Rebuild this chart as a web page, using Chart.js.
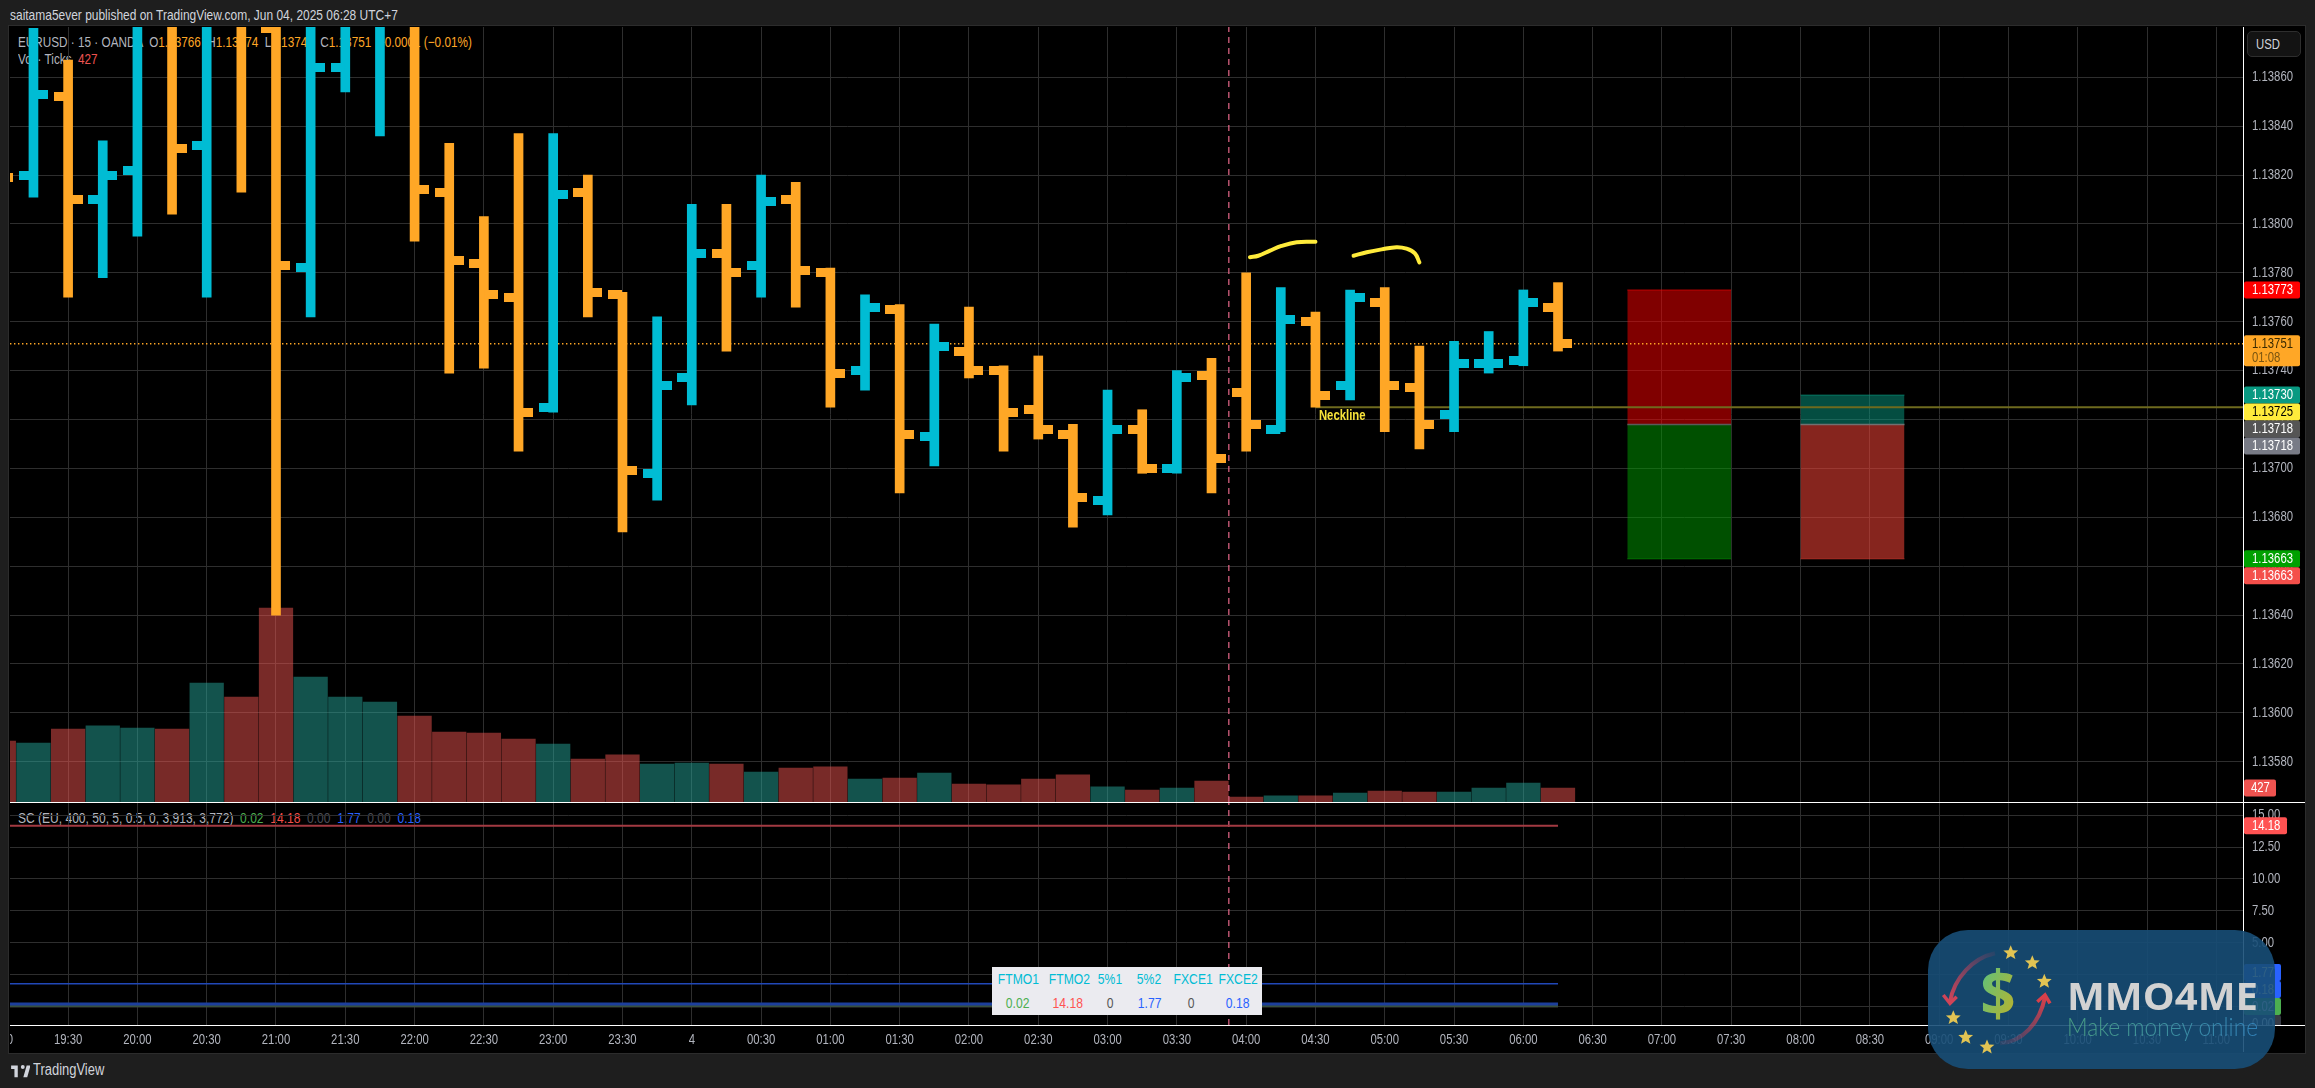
<!DOCTYPE html>
<html>
<head>
<meta charset="utf-8">
<script src="https://cdn.jsdelivr.net/npm/chart.js@4/dist/chart.umd.min.js"></script>
<style>
html, body { margin: 0; padding: 0; width: 2315px; height: 1088px; overflow: hidden; background: #1e1e1e; }
body, div, span, td { font-family: "Liberation Sans", sans-serif; }
.abs { position: absolute; }
.txt { position: absolute; white-space: pre; font-size: 14.5px; color: #b2b5be; line-height: 18px; transform: scaleX(0.81); transform-origin: left center; }
canvas { position: absolute; display: block; }
#pane { left: 9px; top: 26px; width: 2296px; height: 1027px; background: #000; outline: 1px solid #2c2c2c; }
.white { position: absolute; background: #fff; }
#usd { left: 2247px; top: 31px; width: 54px; height: 26px; background: #131313; border: 1px solid #2e2e2e; border-radius: 5px; box-sizing: border-box; }
#panel { left: 992px; top: 967px; width: 270px; height: 48px; background: #ebebf0; border-collapse: collapse; table-layout: fixed; }
#panel td { padding: 0; text-align: center; font-size: 15px; line-height: 24px; height: 24px; }
#panel span { display: inline-block; transform: scaleX(0.81); }
</style>
</head>
<body>
<div class="txt" style="left:10px;top:6px;color:#d1d4dc;transform:scaleX(0.825)">saitama5ever published on TradingView.com, Jun 04, 2025 06:28 UTC+7</div>
<div id="pane" class="abs"></div>
<div class="txt" style="left:18px;top:33px">EURUSD · 15 · OANDA  O<span style="color:#ffa726">1.13766</span>  H<span style="color:#ffa726">1.13774</span>  L<span style="color:#ffa726">1.13749</span>  C<span style="color:#ffa726">1.13751</span>  <span style="color:#ffa726">−0.0001 (−0.01%)</span></div>
<div class="txt" style="left:18px;top:50px">Vol · Ticks  <span style="color:#ef5350">427</span></div>
<div class="txt" style="left:18px;top:809px;transform:scaleX(0.83)">SC (EU, 400, 50, 5, 0.5, 0, 3,913, 3,772)  <span style="color:#4caf50">0.02</span>  <span style="color:#f44f4a">14.18</span>  <span style="color:#4a4c55">0.00</span>  <span style="color:#2962ff">1.77</span>  <span style="color:#4a4c55">0.00</span>  <span style="color:#2962ff">0.18</span></div>
<canvas id="priceChart" width="2295" height="775" style="left:10px;top:27px"></canvas>
<canvas id="subChart" width="2295" height="250" style="left:10px;top:803px"></canvas>
<div class="white" style="left:10px;top:801.5px;width:2295px;height:1.5px"></div>
<div class="white" style="left:10px;top:1024.5px;width:2295px;height:1.5px"></div>
<div class="white" style="left:2242.7px;top:27px;width:1.5px;height:1025px"></div>
<div id="usd" class="abs"></div>
<div class="txt" style="left:2256px;top:35px;color:#d1d4dc;font-size:14px">USD</div>
<table id="panel" class="abs"></table>
<svg class="abs" style="left:10px;top:1062px" width="20" height="16" viewBox="0 0 36 28"><path fill="#d1d4dc" d="M14 6H2v6h6v15h6V6zm17 21h-7l6-21h7l-6 21zm-8-15a3.500 3.500 0 1 0 0-7 3.500 3.500 0 0 0 0 7z"/></svg>
<div class="txt" style="left:33px;top:1061px;color:#d1d4dc;font-size:16px">TradingView</div>
<svg class="abs" style="left:1928px;top:930px" width="347" height="139" viewBox="0 0 347 139">
  <defs>
    <linearGradient id="dollarFill" x1="0" y1="0" x2="1" y2="1"><stop offset="0" stop-color="#4cc48a"/><stop offset="1" stop-color="#c9b020"/></linearGradient>
    <linearGradient id="tagFill" x1="0" y1="0" x2="1" y2="0"><stop offset="0" stop-color="#59b98a"/><stop offset="1" stop-color="#3a93cf"/></linearGradient>
    <linearGradient id="arcA" x1="1" y1="0" x2="0" y2="1"><stop offset="0" stop-color="#c9405a" stop-opacity="0.1"/><stop offset="1" stop-color="#d04458"/></linearGradient>
    <linearGradient id="arcB" x1="0" y1="1" x2="1" y2="0"><stop offset="0" stop-color="#c9405a" stop-opacity="0.1"/><stop offset="1" stop-color="#d8404a"/></linearGradient>
    <polygon id="star" points="0,-7.500 2.100,-2.500 7.400,-2.200 3.300,1.200 4.700,6.400 0,3.600 -4.700,6.400 -3.300,1.200 -7.400,-2.200 -2.100,-2.500" fill="#e2c453"/>
  </defs>
  <rect width="347" height="139" rx="40" fill="rgba(23,78,119,0.9)"/>
  <path d="M67 23.300 C45 28 26 48 22 72" fill="none" stroke="url(#arcA)" stroke-width="4"/>
  <path d="M15.300 65 L22 73.300 L28.700 66.700" fill="none" stroke="#d04458" stroke-width="3.500"/>
  <path d="M72 113.300 C95 112 112 92 117 67" fill="none" stroke="url(#arcB)" stroke-width="4"/>
  <path d="M109.300 71.700 L117 65 L122 73.300" fill="none" stroke="#d8404a" stroke-width="3.500"/>
  <use href="#star" x="82.700" y="22.700"/><use href="#star" x="104.300" y="32.700"/><use href="#star" x="116.300" y="51.300"/>
  <use href="#star" x="25.300" y="87.700"/><use href="#star" x="37.700" y="107.300"/><use href="#star" x="59" y="117"/>
  <text x="70" y="86" text-anchor="middle" font-family="Open Sans" font-weight="700" font-size="62" fill="url(#dollarFill)">$</text>
  <text x="139" y="80" font-family="Open Sans" font-weight="700" font-size="37" textLength="191" lengthAdjust="spacingAndGlyphs" fill="#d2d2d2">MMO4ME</text>
  <text x="139" y="106" font-family="Lato" font-weight="300" font-size="25" textLength="191" lengthAdjust="spacingAndGlyphs" fill="url(#tagFill)" opacity="0.75">Make money online</text>
</svg>
<script>
// 15 minute bars, index 0 is 19:00 on the 3rd
var barOpen = [1.13835, 1.13820, 1.13852, 1.13810, 1.13822, 1.13895, 1.13832, 1.13895, 1.13880, 1.13782, 1.13864, 1.13890,
    1.13900, 1.13813, 1.13784, 1.13770, 1.13725, 1.13813, 1.13771, 1.13698, 1.13737, 1.13788, 1.13783, 1.13810,
    1.13780, 1.13740, 1.13765, 1.13713, 1.13748, 1.13740, 1.13724, 1.13714, 1.13687, 1.13716, 1.13700, 1.13738,
    1.13731, 1.13716, 1.13760, 1.13734, 1.13768, 1.13733, 1.13722, 1.13743, 1.13744, 1.13766];
var barHigh = [1.13845, 1.13880, 1.13867, 1.13834, 1.13905, 1.13905, 1.13905, 1.13905, 1.13895, 1.13890, 1.13900, 1.13910,
    1.13905, 1.13833, 1.13803, 1.13837, 1.13837, 1.13820, 1.13772, 1.13762, 1.13808, 1.13808, 1.13820, 1.13817,
    1.13782, 1.13771, 1.13767, 1.13759, 1.13766, 1.13742, 1.13746, 1.13718, 1.13732, 1.13724, 1.13740, 1.13745,
    1.13780, 1.13774, 1.13764, 1.13773, 1.13774, 1.13750, 1.13752, 1.13756, 1.13773, 1.13776];
var barLow = [1.13810, 1.13811, 1.13770, 1.13778, 1.13795, 1.13804, 1.13770, 1.13813, 1.13640, 1.13762, 1.13854, 1.13836,
    1.13793, 1.13739, 1.13741, 1.13707, 1.13723, 1.13762, 1.13674, 1.13687, 1.13726, 1.13748, 1.13770, 1.13766,
    1.13725, 1.13732, 1.13690, 1.13701, 1.13737, 1.13707, 1.13712, 1.13676, 1.13681, 1.13698, 1.13698, 1.13690,
    1.13707, 1.13715, 1.13725, 1.13728, 1.13715, 1.13708, 1.13715, 1.13739, 1.13742, 1.13748];
var barClose = [1.13819, 1.13853, 1.13810, 1.13820, 1.13895, 1.13831, 1.13895, 1.13885, 1.13783, 1.13864, 1.13890, 1.13900,
    1.13814, 1.13785, 1.13771, 1.13723, 1.13812, 1.13772, 1.13699, 1.13734, 1.13788, 1.13780, 1.13809, 1.13781,
    1.13739, 1.13766, 1.13714, 1.13750, 1.13740, 1.13723, 1.13716, 1.13688, 1.13716, 1.13700, 1.13737, 1.13704,
    1.13718, 1.13761, 1.13730, 1.13770, 1.13734, 1.13718, 1.13743, 1.13743, 1.13768, 1.13751];
var barVolume = [1860, 1800, 2225, 2320, 2255, 2225, 3630, 3200, 5915, 3810, 3200, 3050, 2620, 2135, 2105, 1920, 1770, 1310,
    1435, 1160, 1190, 1160, 915, 1035, 1070, 700, 730, 885, 550, 520, 700, 825, 460, 365, 425, 640, 150, 185, 185, 275,
    335, 305, 305, 425, 580, 427];

var timeLabels = ['19:00', '19:30', '20:00', '20:30', '21:00', '21:30', '22:00', '22:30', '23:00', '23:30', '4', '00:30',
    '01:00', '01:30', '02:00', '02:30', '03:00', '03:30', '04:00', '04:30', '05:00', '05:30', '06:00', '06:30',
    '07:00', '07:30', '08:00', '08:30', '09:00', '09:30', '10:00', '10:30', '11:00'];
var priceTicks = [1.1386, 1.1384, 1.1382, 1.138, 1.1378, 1.1376, 1.1374, 1.1372, 1.137, 1.1368, 1.1366, 1.1364, 1.1362, 1.136, 1.1358];
var subTicks = [15, 12.5, 10, 7.5, 5, 2.5, 0];

// drawings on the price pane
var lastPrice = 1.13751;
var necklinePrice = 1.13725;
var necklineFrom = 38;
var sessionBreak = 35.5;
var shortBox = { from: 47, to: 50, top: 1.13773, mid: 1.13718, bottom: 1.13663 };
var longBox = { from: 52, to: 55, top: 1.13730, mid: 1.13718, bottom: 1.13663 };
var shoulderAX = [36.11, 36.35, 36.69, 37.02, 37.46, 38.0];
var shoulderAY = [1.137864, 1.13787, 1.137891, 1.13791, 1.137925, 1.137927];
var shoulderBX = [39.10, 39.48, 39.91, 40.34, 40.63, 40.87, 41.0];
var shoulderBY = [1.13787, 1.137884, 1.137896, 1.137905, 1.137899, 1.13788, 1.137843];

// SC indicator, flat over the loaded bars
var scX = [0, 45];
var ftmo1 = [0.02, 0.02];
var ftmo2 = [14.18, 14.18];
var fivePct1 = [0, 0];
var fivePct2 = [1.77, 1.77];
var fxce1 = [0, 0];
var fxce2 = [0.18, 0.18];

var tableHead = ['FTMO1', 'FTMO2', '5%1', '5%2', 'FXCE1', 'FXCE2'];
var tableVals = ['0.02', '14.18', '0', '1.77', '0', '0.18'];

var priceTagVals = [1.13773, 1.13751, 1.13730, 1.13725, 1.13718, 1.13718, 1.13663, 1.13663];
var priceTagBg = ['#ff0000', '#ffa726', '#089981', '#ffeb3b', '#555555', '#787b86', '#00a000', '#f44f4a'];
var priceTagFg = ['#fff', '#3a2a00', '#fff', '#000', '#fff', '#fff', '#fff', '#fff'];
var subTagVals = [1.77, 0.18, 0.02, 0];
var subTagText = ['1.77', '0.18', '0.02', '0.00'];
var subTagBg = ['#2962ff', '#2962ff', '#4caf50', '#363a45'];

const FONT = '"Liberation Sans", sans-serif';
const NARROW = 0.81; // no condensed font installed, squeeze canvas text by hand
const UP = '#00bcd4', DOWN = '#ffa726';
const GRID = '#2e2e2e', AXIS_TEXT = '#b2b5be';
const X_MIN = 0.323, X_MAX = 64.77;

var colWidths = [52, 47, 39, 39, 45, 48];
var tableColors = ['#4caf50', '#ff5252', '#555', '#2962ff', '#555', '#2962ff'];
document.getElementById('panel').innerHTML =
    '<colgroup>' + colWidths.map(w => `<col style="width:${w}px">`).join('') + '</colgroup>' +
    '<tr>' + tableHead.map(t => `<td style="color:${UP}"><span>${t}</span></td>`).join('') + '</tr>' +
    '<tr>' + tableVals.map((t, i) => `<td style="color:${tableColors[i]}"><span>${t}</span></td>`).join('') + '</tr>';

function narrowText(ctx) {
    const raw = ctx.fillText;
    ctx.fillText = function (t, x, y) {
        this.save();
        this.translate(x, y);
        this.scale(NARROW, 1);
        raw.call(this, t, 0, 0);
        this.restore();
    };
}

function tickSprite(color, left) {
    let c = document.createElement('canvas');
    c.width = 29;
    c.height = 9;
    let g = c.getContext('2d');
    g.fillStyle = color;
    g.fillRect(left ? 0 : 15, 0, 14, 9);
    return c;
}
var sprites = {
    openUp: tickSprite(UP, true), openDown: tickSprite(DOWN, true),
    closeUp: tickSprite(UP, false), closeDown: tickSprite(DOWN, false)
};

function isUp(i) {
    return barClose[i] >= barOpen[i];
}

function noPadding(s) {
    s.paddingLeft = s.paddingRight = s.paddingTop = s.paddingBottom = 0;
}

function flatLine(y0, from, to, color, width, order, extra) {
    return Object.assign({
        type: 'line', yAxisID: 'y', xAxisID: 'x',
        data: [{ x: from, y: y0 }, { x: to, y: y0 }],
        borderColor: color, borderWidth: width, pointRadius: 0, order: order
    }, extra || {});
}

function drawTag(g, x, y, w, h, bg) {
    g.fillStyle = bg;
    g.beginPath();
    g.roundRect(x, y, w, h, 2);
    g.fill();
}

var priceTags = {
    id: 'priceTags',
    afterDraw(chart) {
        let g = chart.ctx, sc = chart.scales.y, x = chart.chartArea.right + 1;
        g.save();
        g.textBaseline = 'middle';
        g.font = '14px ' + FONT;
        let nextTop = 0;
        priceTagVals.forEach((v, i) => {
            let two = i === 1;
            let top = Math.max(sc.getPixelForValue(v) - 8.5, nextTop);
            let h = two ? 31 : 17;
            drawTag(g, x, top, 56, h, priceTagBg[i]);
            g.fillStyle = priceTagFg[i];
            g.fillText(v.toFixed(5), x + 8, top + 9);
            if (two) {
                g.fillStyle = '#7a5510';
                g.fillText('01:08', x + 8, top + 23);
            }
            nextTop = top + h;
        });
        // volume tag sits on the price pane
        let volY = chart.scales.yVol.getPixelForValue(barVolume[barVolume.length - 1]);
        drawTag(g, x, volY - 8.5, 32, 17, '#ef5350');
        g.fillStyle = '#fff';
        g.fillText(String(barVolume[barVolume.length - 1]), x + 7, volY + 0.5);
        // the neckline note, next to the line
        g.fillStyle = '#f7e33a';
        g.font = 'bold 14px ' + FONT;
        g.fillText('Neckline', chart.scales.x.getPixelForValue(38.1), sc.getPixelForValue(necklinePrice) + 9);
        g.restore();
    }
};

var subTags = {
    id: 'subTags',
    afterDraw(chart) {
        let g = chart.ctx, sc = chart.scales.y, x = chart.chartArea.right + 1;
        g.save();
        g.textBaseline = 'middle';
        g.font = '14px ' + FONT;
        let y14 = sc.getPixelForValue(ftmo2[0]);
        drawTag(g, x, y14 - 8.5, 43, 17, '#ff5252');
        g.fillStyle = '#fff';
        g.fillText(ftmo2[0].toFixed(2), x + 8, y14 + 0.5);
        // the four low values are stacked around their mean
        g.beginPath();
        g.rect(x, 0, 80, chart.chartArea.bottom);
        g.clip();
        let mean = subTagVals.reduce((a, v) => a + sc.getPixelForValue(v), 0) / subTagVals.length;
        subTagVals.forEach((v, i) => {
            let y = mean - 2 + (i - 1.5) * 17;
            drawTag(g, x, y - 8.5, 37, 17, subTagBg[i]);
            g.fillStyle = '#fff';
            g.fillText(subTagText[i], x + 8, y + 0.5);
        });
        g.restore();
    }
};

var xGrid = { color: GRID, lineWidth: 1, drawTicks: false, offset: false };

var priceCtx = document.getElementById('priceChart').getContext('2d');
var subCtx = document.getElementById('subChart').getContext('2d');
narrowText(priceCtx);
narrowText(subCtx);

new Chart(priceCtx, {
    type: 'bar',
    data: {
        datasets: [{
            type: 'line', label: 'shoulder A', data: shoulderAX.map((x, i) => ({ x: x, y: shoulderAY[i] })),
            borderColor: '#ffeb3b', borderWidth: 4, tension: 0.4, borderCapStyle: 'round', pointRadius: 0, order: 0
        }, {
            type: 'line', label: 'shoulder B', data: shoulderBX.map((x, i) => ({ x: x, y: shoulderBY[i] })),
            borderColor: '#ffeb3b', borderWidth: 4, tension: 0.4, borderCapStyle: 'round', pointRadius: 0, order: 0
        }, {
            type: 'scatter', label: 'open', data: barOpen.map((v, i) => ({ x: i, y: v })),
            pointRadius: 16, pointHoverRadius: 16,
            pointStyle: c => (isUp(c.dataIndex) ? sprites.openUp : sprites.openDown), order: 1
        }, {
            type: 'scatter', label: 'close', data: barClose.map((v, i) => ({ x: i, y: v })),
            pointRadius: 16, pointHoverRadius: 16,
            pointStyle: c => (isUp(c.dataIndex) ? sprites.closeUp : sprites.closeDown), order: 1
        }, {
            type: 'bar', label: 'range', data: barLow.map((v, i) => ({ x: i, y: [v, barHigh[i]] })),
            backgroundColor: barLow.map((v, i) => (isUp(i) ? UP : DOWN)),
            barThickness: 9, grouped: false, order: 2
        },
        {
            type: 'line', label: 'break',
            data: [{ x: sessionBreak, y: 1.1356352 }, { x: sessionBreak, y: 1.1388058 }],
            borderColor: '#e8688a', borderWidth: 1.2, borderDash: [6, 5], pointRadius: 0, order: 3
        },
        flatLine(lastPrice, X_MIN, X_MAX, DOWN, 1.4, 3, { borderDash: [1.4, 2.6] }),
        flatLine(necklinePrice, necklineFrom, X_MAX, '#6e6a1e', 2, 3),
        flatLine(shortBox.mid, shortBox.from, shortBox.to, '#5a5a5a', 1.5, 4),
        flatLine(longBox.mid, longBox.from, longBox.to, '#707070', 1.5, 4),
        flatLine(shortBox.top, shortBox.from, shortBox.to, 'rgba(255,0,0,0.6)', 1, 5, { fill: { value: shortBox.mid }, backgroundColor: 'rgba(255,0,0,0.5)' }),
        flatLine(shortBox.bottom, shortBox.from, shortBox.to, 'rgba(0,160,0,0.6)', 1, 5, { fill: { value: shortBox.mid }, backgroundColor: 'rgba(0,160,0,0.5)' }),
        flatLine(longBox.top, longBox.from, longBox.to, 'rgba(8,153,129,0.6)', 1, 5, { fill: { value: longBox.mid }, backgroundColor: 'rgba(8,153,129,0.5)' }),
        flatLine(longBox.bottom, longBox.from, longBox.to, 'rgba(244,67,54,0.55)', 1, 5, { fill: { value: longBox.mid }, backgroundColor: 'rgba(244,67,54,0.55)' }),
        {
            type: 'bar', label: 'volume', yAxisID: 'yVol', data: barVolume.map((v, i) => ({ x: i, y: v })),
            backgroundColor: barVolume.map((v, i) => (isUp(i) ? 'rgba(38,166,154,0.5)' : 'rgba(239,83,80,0.5)')),
            barThickness: 33.6, grouped: false, order: 6
        }]
    },
    options: {
        responsive: false, animation: false,
        layout: { padding: 0, autoPadding: false },
        plugins: { legend: { display: false }, tooltip: { enabled: false }, title: { display: false } },
        scales: {
            x: {
                type: 'linear', min: X_MIN, max: X_MAX, offset: false,
                afterBuildTicks: s => { s.ticks = timeLabels.map((t, k) => ({ value: k * 2 })); },
                ticks: { display: false },
                grid: xGrid, border: { display: false },
                afterFit: s => { s.height = 0; noPadding(s); }
            },
            y: {
                type: 'linear', position: 'right', min: 1.1356352, max: 1.1388058,
                afterBuildTicks: s => { s.ticks = priceTicks.map(v => ({ value: v })); },
                ticks: { color: AXIS_TEXT, font: { family: FONT, size: 14 }, padding: 9, callback: v => v.toFixed(5) },
                grid: { color: GRID, drawTicks: false }, border: { display: false },
                afterFit: s => { s.width = 62; noPadding(s); }
            },
            yVol: { type: 'linear', display: false, min: 0, max: 23637, grid: { display: false } }
        }
    },
    plugins: [priceTags]
});

new Chart(subCtx, {
    type: 'line',
    data: {
        datasets: [{
            label: 'break', data: [{ x: sessionBreak, y: -1.47 }, { x: sessionBreak, y: 15.97 }],
            borderColor: '#e8688a', borderWidth: 1.2, borderDash: [6, 5], pointRadius: 0, order: 3
        },
        { label: 'FTMO2', data: scX.map((x, i) => ({ x: x, y: ftmo2[i] })), borderColor: '#a33a42', borderWidth: 2, pointRadius: 0, order: 1 },
        { label: '5%2', data: scX.map((x, i) => ({ x: x, y: fivePct2[i] })), borderColor: '#2148b8', borderWidth: 1.5, pointRadius: 0, order: 1 },
        { label: 'FXCE2', data: scX.map((x, i) => ({ x: x, y: fxce2[i] })), borderColor: '#1c3f9c', borderWidth: 3, pointRadius: 0, order: 1 },
        { label: 'FTMO1', data: scX.map((x, i) => ({ x: x, y: ftmo1[i] })), borderColor: '#2e5f3a', borderWidth: 1, pointRadius: 0, order: 2 },
        { label: '5%1', data: scX.map((x, i) => ({ x: x, y: fivePct1[i] })), borderColor: '#444', borderWidth: 2, pointRadius: 0, order: 2 },
        { label: 'FXCE1', data: scX.map((x, i) => ({ x: x, y: fxce1[i] })), borderColor: '#444', borderWidth: 2, pointRadius: 0, order: 2 }]
    },
    options: {
        responsive: false, animation: false,
        layout: { padding: 0, autoPadding: false },
        plugins: { legend: { display: false }, tooltip: { enabled: false }, title: { display: false } },
        scales: {
            x: {
                type: 'linear', min: X_MIN, max: X_MAX,
                afterBuildTicks: s => { s.ticks = timeLabels.map((t, k) => ({ value: k * 2 })); },
                ticks: {
                    color: AXIS_TEXT, font: { family: FONT, size: 14 }, maxRotation: 0, autoSkip: false, padding: 7,
                    callback: v => timeLabels[v / 2]
                },
                grid: xGrid, border: { display: false },
                afterFit: s => { s.height = 28; noPadding(s); }
            },
            y: {
                type: 'linear', position: 'right', min: -1.47, max: 15.97,
                afterBuildTicks: s => { s.ticks = subTicks.map(v => ({ value: v })); },
                ticks: { color: AXIS_TEXT, font: { family: FONT, size: 14 }, padding: 9, callback: v => v.toFixed(2) },
                grid: { color: GRID, drawTicks: false }, border: { display: false },
                afterFit: s => { s.width = 62; noPadding(s); }
            }
        }
    },
    plugins: [subTags]
});
</script>
</body>
</html>
